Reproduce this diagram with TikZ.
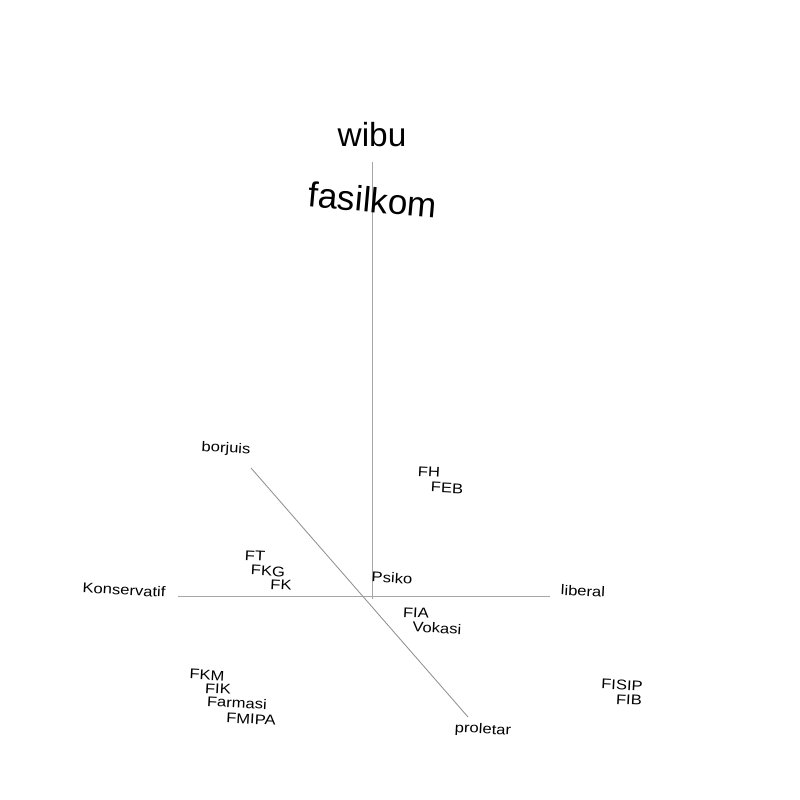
\documentclass[tikz,border=0pt]{standalone}
\usepackage{fontspec}
\setmainfont{Liberation Sans}
\usepackage{tikz}
\usetikzlibrary{calc}

\tikzset{
	axis/.style={gray!70, line width=0.5pt},
	big/.style={font=\fontsize{19}{21}\selectfont, inner sep=0pt},
	fak/.style={font=\fontsize{8}{9}\selectfont, inner sep=0pt, rotate=-3, xscale=1.18},
}

\begin{document}
\begin{tikzpicture}[x=0.02cm, y=-0.02cm]
		\useasboundingbox (0,0) rectangle (800,800);
		
		\coordinate (atas) at (372,162);
		\coordinate (bawah) at (372,599);
		\coordinate (kiri) at (178,596);
		\coordinate (kanan) at (550,596);
		\coordinate (borj) at (251,468);
		\coordinate (prol) at (468,717);
		
		\draw[axis] (atas) -- (bawah);
		\draw[axis] (kiri) -- (kanan);
		\draw[axis, gray!85] (borj) -- (prol);
		
		\node[big] (wibu) at (372,135) {wibu};
		\node[big, font=\fontsize{20}{22}\selectfont, rotate=-5] (fasilkom) at (373,200) {fasilkom};
		
		\node[fak] (borjuis) at (226,449) {borjuis};
		\node[fak] (proletar) at (483,730) {proletar};
		\node[fak] (konservatif) at (124,590) {Konservatif};
		\node[fak] (liberal) at (583,591) {liberal};
		
		\node[fak] (fh) at (429,472) {FH};
		\node[fak] (feb) at (447,488) {FEB};
		\node[fak] (ft) at (255,556) {FT};
		\node[fak] (fkg) at (268,571) {FKG};
		\node[fak] (fk) at (281,585) {FK};
		\node[fak] (psiko) at (392,578) {Psiko};
		\node[fak] (fia) at (416,613) {FIA};
		\node[fak] (vokasi) at (437,628) {Vokasi};
		\node[fak] (fkm) at (207,675) {FKM};
		\node[fak] (fik) at (218,689) {FIK};
		\node[fak] (farmasi) at (237,703) {Farmasi};
		\node[fak] (fmipa) at (251,719) {FMIPA};
		\node[fak] (fisip) at (622,685) {FISIP};
		\node[fak] (fib) at (629,700) {FIB};
	\end{tikzpicture}
\end{document}
